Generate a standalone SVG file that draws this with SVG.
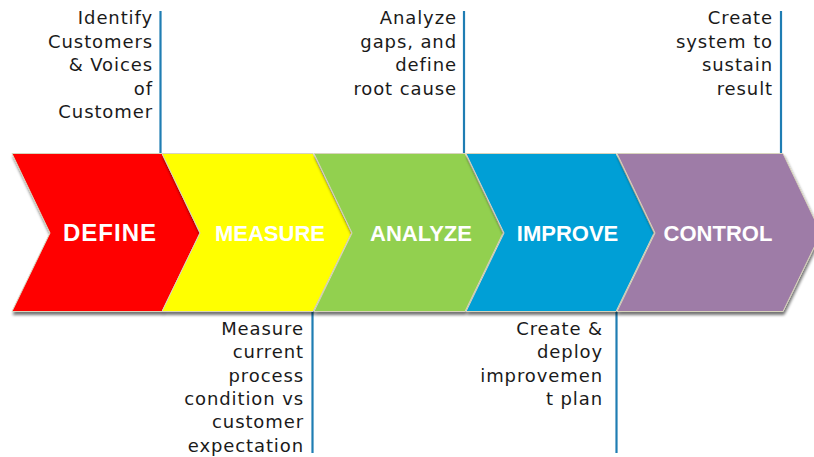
<svg xmlns="http://www.w3.org/2000/svg" width="814" height="457" viewBox="0 0 814 457">
  <defs>
    <filter id="shadow" x="-5%" y="-5%" width="110%" height="115%">
      <feGaussianBlur in="SourceAlpha" stdDeviation="1.5"/>
      <feOffset dx="1" dy="3" result="off"/>
      <feComponentTransfer><feFuncA type="linear" slope="0.55"/></feComponentTransfer>
      <feMerge><feMergeNode/><feMergeNode in="SourceGraphic"/></feMerge>
    </filter>
  </defs>
  <style>
    .chev { stroke: #d8d4bc; stroke-width: 1; filter: url(#shadow); }
    .lbl { font-family: "Liberation Sans", Arial, sans-serif; font-weight: bold; font-size: 22px; fill: #ffffff; text-anchor: middle; }
    .note { font-family: "DejaVu Sans", Verdana, sans-serif; font-size: 18px; fill: #1a1a1a; text-anchor: end; letter-spacing: 0.9px; }
    .conn { stroke: #1f7db3; stroke-width: 2.2; fill: none; }
  </style>

  <!-- leader lines -->
  <g id="connectors">
    <line class="conn" x1="160.5" y1="11" x2="160.5" y2="154"/>
    <line class="conn" x1="464" y1="11" x2="464" y2="154"/>
    <line class="conn" x1="781" y1="11" x2="781" y2="154"/>
    <line class="conn" x1="312.5" y1="311" x2="312.5" y2="453"/>
    <line class="conn" x1="616.5" y1="311" x2="616.5" y2="453"/>
  </g>

  <g id="define">
    <path class="chev" fill="#ff0000" d="M12,153.5 L162,153.5 L200,233 L162,311.5 L12,311.5 L50,233 Z"/>
    <text class="lbl" x="110" y="241" style="font-size:24px;letter-spacing:1px">DEFINE</text>
    <text class="note" x="153" y="24">Identify</text>
    <text class="note" x="153" y="47.5">Customers</text>
    <text class="note" x="153" y="71">&amp; Voices</text>
    <text class="note" x="153" y="94.5">of</text>
    <text class="note" x="153" y="118">Customer</text>
  </g>

  <g id="measure">
    <path class="chev" fill="#ffff00" d="M162,153.5 L313,153.5 L351.5,233 L313,311.5 L162,311.5 L200,233 Z"/>
    <text class="lbl" x="270" y="241">MEASURE</text>
    <text class="note" x="304" y="335">Measure</text>
    <text class="note" x="304" y="358">current</text>
    <text class="note" x="304" y="381.5">process</text>
    <text class="note" x="304" y="405">condition vs</text>
    <text class="note" x="304" y="428">customer</text>
    <text class="note" x="304" y="451.5">expectation</text>
  </g>

  <g id="analyze">
    <path class="chev" fill="#92d050" d="M314,153.5 L465,153.5 L503,233 L465,311.5 L314,311.5 L352,233 Z"/>
    <text class="lbl" x="421" y="241">ANALYZE</text>
    <text class="note" x="457" y="24">Analyze</text>
    <text class="note" x="457" y="47.5">gaps, and</text>
    <text class="note" x="457" y="71">define</text>
    <text class="note" x="457" y="94.5">root cause</text>
  </g>

  <g id="improve">
    <path class="chev" fill="#009fd6" d="M466,153.5 L616,153.5 L654,233 L616,311.5 L466,311.5 L504,233 Z"/>
    <text class="lbl" x="567.5" y="241">IMPROVE</text>
    <text class="note" x="603" y="335">Create &amp;</text>
    <text class="note" x="603" y="358">deploy</text>
    <text class="note" x="603" y="381.5">improvemen</text>
    <text class="note" x="603" y="405">t plan</text>
  </g>

  <g id="control">
    <path class="chev" fill="#9e7ba7" d="M617,153.5 L783,153.5 L821,233 L783,311.5 L617,311.5 L655,233 Z"/>
    <text class="lbl" x="718" y="241">CONTROL</text>
    <text class="note" x="773" y="24">Create</text>
    <text class="note" x="773" y="47.5">system to</text>
    <text class="note" x="773" y="71">sustain</text>
    <text class="note" x="773" y="94.5">result</text>
  </g>
</svg>
